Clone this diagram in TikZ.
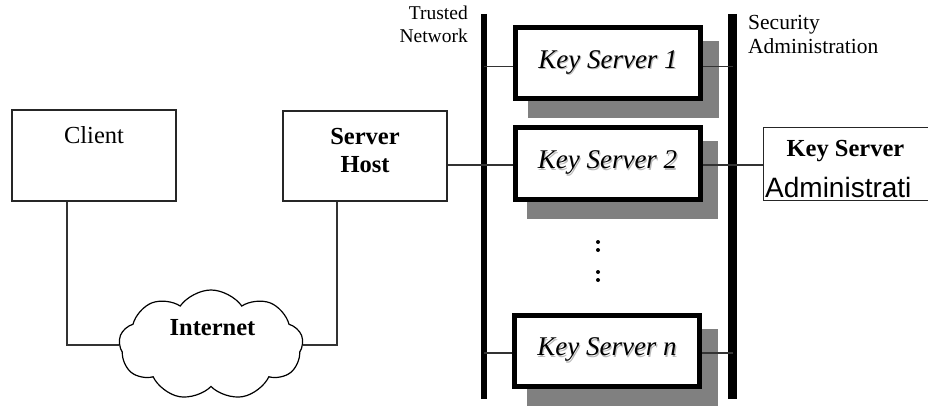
\documentclass[tikz,border=0pt]{standalone}
\usepackage{fontspec}
\setmainfont{Liberation Serif}
\newfontfamily\arialfont{Liberation Sans}
\usetikzlibrary{shapes.symbols,shadows,calc}
\newcommand\ksshadow[1]{\rlap{\textcolor{gray!55}{\kern1.2pt\raisebox{-1.2pt}{#1}}}#1}
\begin{document}
\begin{tikzpicture}[x=1pt,y=-1pt,
  thinline/.style={draw=black!80, line width=1.1pt},
  plainbox/.style={draw=black!85, line width=1.3pt, fill=white, inner sep=0pt},
  ksbox/.style={draw=black, line width=5pt, fill=white, minimum width=185pt, minimum height=71pt, inner sep=0pt,
    font=\fontsize{27}{30}\selectfont\itshape,
    drop shadow={shadow xshift=15pt, shadow yshift=-16.5pt, opacity=1, fill=gray, draw=gray, line width=6pt}},
  lbl/.style={font=\fontsize{24.5}{28}\selectfont, inner sep=0pt},
  blbl/.style={font=\fontsize{24.5}{28}\selectfont\bfseries, inner sep=0pt},
  smalllbl/.style={font=\fontsize{19.5}{23}\selectfont, inner sep=0pt},
  seclbl/.style={font=\fontsize{21.5}{24}\selectfont, inner sep=0pt},
  bus/.style={line width=#1, draw=black},
]
\useasboundingbox (0,0) rectangle (928,406);

% client and host
\node[plainbox, minimum width=164pt, minimum height=91pt] (client) at (94,155.5) {};
\node[lbl, anchor=base] (clienttxt) at (94,144) {Client};
\node[plainbox, minimum width=164pt, minimum height=90pt] (host) at (365,156) {};
\node[blbl, anchor=base] (hosttxt1) at (365,145) {Server};
\node[blbl, anchor=base] (hosttxt2) at (365,173) {Host};

% cloud
\node[cloud, draw=black, line width=1.2pt, fill=white, cloud puffs=9, cloud puff arc=110, cloud ignores aspect,
  minimum width=184pt, minimum height=110pt, inner sep=0pt] (net) at (211,345) {};
\node[blbl, anchor=base] (nettxt) at (212.5,335) {Internet};

\coordinate (cl) at ($(client.south west)+(55.6,0)$);
\coordinate (hl) at ($(host.south west)+(54.6,0)$);
\draw[thinline] (cl) |- (net.west);
\draw[thinline] (hl) |- (net.east);

% buses
\coordinate (tbtop) at (484,14);
\coordinate (tbbot) at (484,399);
\coordinate (sbtop) at (732.5,14);
\coordinate (sbbot) at (732.5,399);
\draw[bus=6pt] (tbtop) -- (tbbot);
\draw[bus=9pt] (sbtop) -- (sbbot);

% key servers
\node[ksbox] (ks1) at (608,63) {\ksshadow{Key Server 1}};
\node[ksbox] (ks2) at (607.5,163.5) {\ksshadow{Key Server 2}};
\node[ksbox] (ksn) at (607,350.5) {\ksshadow{Key Server n}};

% admin box
\node[plainbox, minimum width=200pt, minimum height=73pt, anchor=north west] (admin) at (763,127) {};
\node[blbl, anchor=base] (admintxt1) at (845.5,157) {Key Server};
\begin{scope}
  \clip (764,128) rectangle (928,199.2);
  \node[font=\arialfont\fontsize{28}{30}\selectfont, anchor=base west, inner sep=0pt] (admintxt2) at (765,197) {Administrati};
\end{scope}

% connectors
\coordinate (l1) at ($(ks1.west)+(0,3.5)$);
\coordinate (r1) at ($(ks1.east)+(0,3.5)$);
\coordinate (l2) at ($(ks2.west)+(0,1.5)$);
\coordinate (r2) at ($(ks2.east)+(0,1.5)$);
\coordinate (ln) at ($(ksn.west)+(0,2.5)$);
\coordinate (rn) at ($(ksn.east)+(0,2.5)$);
\draw[thinline] (l1 -| tbtop) -- (l1);
\draw[thinline] (r1) -- (r1 -| sbtop);
\draw[thinline] (l2 -| host.east) -- (l2);
\draw[thinline] (r2) -- (r2 -| admin.west);
\draw[thinline] (ln -| tbtop) -- (ln);
\draw[thinline] (rn) -- (rn -| sbtop);

% dots
\fill (598,242) circle (2pt);
\fill (598,250) circle (2pt);
\fill (598,272) circle (2pt);
\fill (598,280) circle (2pt);

% labels
\node[smalllbl, anchor=base east] (tn1) at (468,20) {Trusted};
\node[smalllbl, anchor=base east] (tn2) at (468,43) {Network};
\node[seclbl, anchor=base west] (sa1) at (748,30) {Security};
\node[seclbl, anchor=base west] (sa2) at (748,54) {Administration};
\end{tikzpicture}
\end{document}
